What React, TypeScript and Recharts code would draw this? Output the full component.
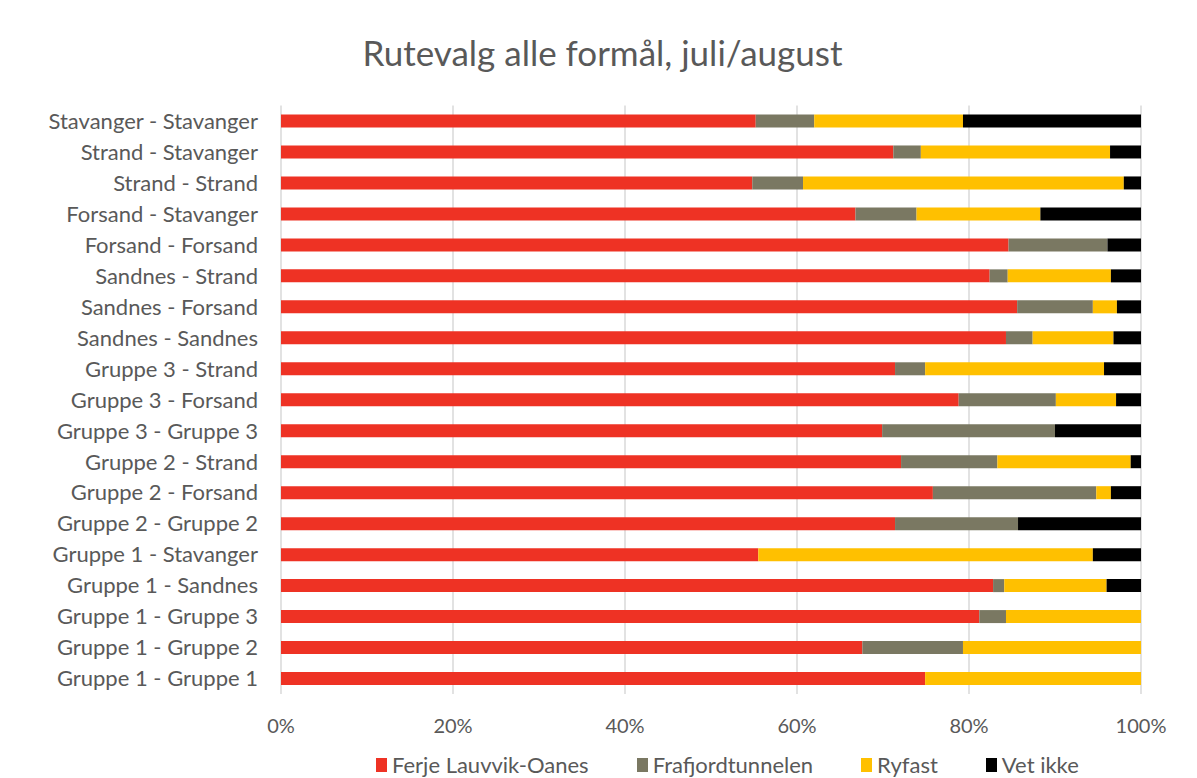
import React from "react";
import { BarChart, Bar, XAxis, YAxis, CartesianGrid } from "recharts";

const categories = [
  "Stavanger - Stavanger",
  "Strand - Stavanger",
  "Strand - Strand",
  "Forsand - Stavanger",
  "Forsand - Forsand",
  "Sandnes - Strand",
  "Sandnes - Forsand",
  "Sandnes - Sandnes",
  "Gruppe 3 - Strand",
  "Gruppe 3 - Forsand",
  "Gruppe 3 - Gruppe 3",
  "Gruppe 2 - Strand",
  "Gruppe 2 - Forsand",
  "Gruppe 2 - Gruppe 2",
  "Gruppe 1 - Stavanger",
  "Gruppe 1 - Sandnes",
  "Gruppe 1 - Gruppe 3",
  "Gruppe 1 - Gruppe 2",
  "Gruppe 1 - Gruppe 1",
];

const ferje = [55.2, 71.2, 54.8, 66.8, 84.6, 82.4, 85.6, 84.3, 71.4, 78.8, 69.9, 72.1, 75.8, 71.4, 55.5, 82.8, 81.2, 67.6, 74.9];
const frafjord = [6.8, 3.2, 5.9, 7.1, 11.5, 2.1, 8.8, 3.1, 3.5, 11.3, 20.1, 11.2, 19.0, 14.3, 0, 1.3, 3.1, 11.7, 0];
const ryfast = [17.3, 22.0, 37.3, 14.4, 0, 12.0, 2.8, 9.4, 20.8, 7.0, 0, 15.5, 1.7, 0, 38.9, 11.9, 15.7, 20.7, 25.1];
const vetIkke = [20.7, 3.6, 2.0, 11.7, 3.9, 3.5, 2.8, 3.2, 4.3, 2.9, 10.0, 1.2, 3.5, 14.3, 5.6, 4.0, 0, 0, 0];

const xTicks = [0, 0.2, 0.4, 0.6, 0.8, 1];

const series = [
  { key: "ferje", name: "Ferje Lauvvik-Oanes", color: "#EE3224" },
  { key: "frafjord", name: "Frafjordtunnelen", color: "#7A7862" },
  { key: "ryfast", name: "Ryfast", color: "#FFC000" },
  { key: "vetIkke", name: "Vet ikke", color: "#000000" },
];

const data = categories.map((name, i) => ({
  name,
  ferje: ferje[i],
  frafjord: frafjord[i],
  ryfast: ryfast[i],
  vetIkke: vetIkke[i],
}));

const font = "Lato, 'Open Sans', sans-serif";
const textColor = "#595959";

export default function App() {
  return (
    <div style={{ position: "relative", width: 1189, height: 770, fontFamily: font }}>
      <div
        style={{
          position: "absolute",
          left: -2,
          top: -2,
          width: 1300,
          height: 900,
          borderLeft: "2px solid #d9d9d9",
          borderTop: "2px solid #d9d9d9",
          boxSizing: "border-box",
        }}
      />
      <div
        style={{
          position: "absolute",
          left: 0,
          width: 1189,
          top: 24,
          textAlign: "center",
          fontSize: 35,
          color: textColor,
          lineHeight: "40px",
        }}
      >
        Rutevalg alle formål, juli/august
      </div>
      <BarChart
        width={1189}
        height={770}
        data={data}
        layout="vertical"
        stackOffset="expand"
        barSize={13}
        margin={{ top: 97.5, right: 56, bottom: 44, left: 0 }}
      >
        <CartesianGrid horizontal={false} stroke="#d9d9d9" strokeWidth={1.5} />
        <XAxis
          type="number"
          domain={[0, 1]}
          ticks={xTicks}
          tickFormatter={(v: number) => `${Math.round(v * 100)}%`}
          axisLine={false}
          tickLine={false}
          tickSize={0}
          tickMargin={25}
          height={40}
          tick={{ fill: textColor, fontSize: 20, fontFamily: font }}
        />
        <YAxis
          type="category"
          dataKey="name"
          width={273}
          axisLine={false}
          tickLine={false}
          tickSize={0}
          tickMargin={23}
          interval={0}
          tick={{ fill: textColor, fontSize: 22, fontFamily: font }}
        />
        {series.map((s) => (
          <Bar
            key={s.key}
            dataKey={s.key}
            name={s.name}
            stackId="a"
            fill={s.color}
            isAnimationActive={false}
          />
        ))}
      </BarChart>
      <div
        style={{
          position: "absolute",
          left: 368,
          top: 743,
          display: "flex",
          alignItems: "center",
          gap: 48,
          fontSize: 22,
          color: textColor,
          whiteSpace: "nowrap",
        }}
      >
        {series.map((s) => (
          <div key={s.key} style={{ display: "flex", alignItems: "center", gap: 5 }}>
            <span style={{ display: "inline-block", width: 11, height: 14, background: s.color }} />
            <span>{s.name}</span>
          </div>
        ))}
      </div>
    </div>
  );
}
